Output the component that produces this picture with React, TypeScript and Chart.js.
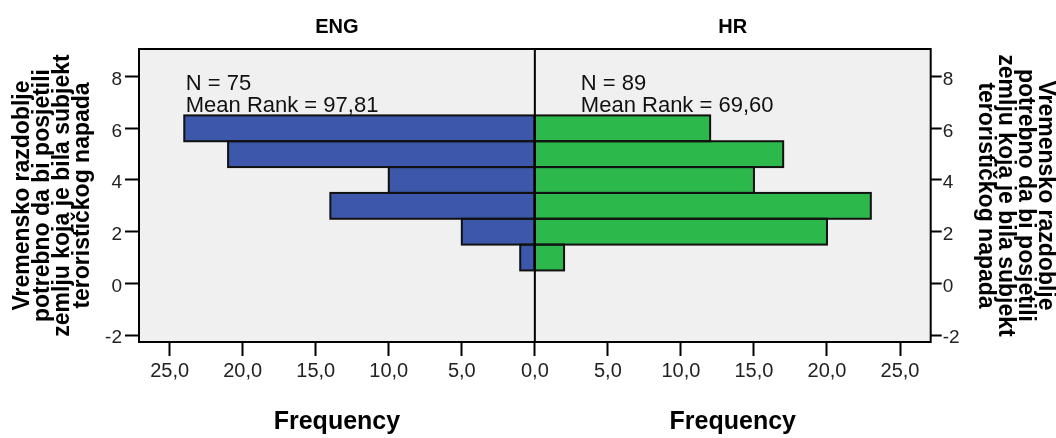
import React, { useEffect, useRef } from "react";
import { Chart, registerables } from "chart.js";

Chart.register(...registerables);

// ---- data ----
const GROUPS = ["ENG", "HR"];
const Y_POSITIONS = [1, 2, 3, 4, 5, 6];
const ENG_FREQ = [1, 5, 14, 10, 21, 24];
const HR_FREQ = [2, 20, 23, 15, 17, 12];
const ENG_STATS = ["N = 75", "Mean Rank = 97,81"];
const HR_STATS = ["N = 89", "Mean Rank = 69,60"];
const Y_TICKS = [-2, 0, 2, 4, 6, 8];
const X_TICKS_LEFT = [0, 5, 10, 15, 20, 25];
const X_TICKS_RIGHT = [5, 10, 15, 20, 25];
const Y_TITLE = [
  "Vremensko razdoblje",
  "potrebno da bi posjetili",
  "zemlju koja je bila subjekt",
  "terorističkog napada",
];
const X_TITLE = "Frequency";

// ---- scale ranges ----
const Y_MIN = -2.27;
const Y_MAX = 9.07;
const X_MAX = 27.1;

const FONT = '"Liberation Sans", Arial, sans-serif';
const ENG_COLOR = "#3d58ab";
const HR_COLOR = "#2db84b";
const PLOT_BG = "#f0f0f0";

const fmtX = (v: number) => v.toFixed(1).replace(".", ",");

const pyramidPlugin = {
  id: "pyramid",
  beforeDraw(chart: any) {
    const { ctx, chartArea: a, width, height } = chart;
    ctx.save();
    ctx.fillStyle = "#ffffff";
    ctx.fillRect(0, 0, width, height);
    ctx.fillStyle = PLOT_BG;
    ctx.fillRect(a.left, a.top, a.right - a.left, a.bottom - a.top);
    ctx.restore();
  },
  afterDatasetsDraw(chart: any) {
    const { ctx, chartArea: a, scales } = chart;
    ctx.save();
    // bar outlines (centered strokes)
    ctx.strokeStyle = "#111";
    ctx.lineWidth = 2;
    chart.data.datasets.forEach((_: any, i: number) => {
      const meta = chart.getDatasetMeta(i);
      meta.data.forEach((bar: any) => {
        const p = bar.getProps(["x", "y", "base", "height"], true);
        const x0 = Math.min(p.x, p.base);
        const x1 = Math.max(p.x, p.base);
        ctx.strokeRect(x0, p.y - p.height / 2, x1 - x0, p.height);
      });
    });
    // frame
    ctx.strokeStyle = "#000";
    ctx.lineWidth = 2;
    ctx.strokeRect(a.left, a.top, a.right - a.left, a.bottom - a.top);
    // centre line
    const cx = scales.xL.getPixelForValue(0);
    ctx.beginPath();
    ctx.moveTo(cx, a.top);
    ctx.lineTo(cx, a.bottom);
    ctx.stroke();

    // group titles
    ctx.fillStyle = "#000";
    ctx.font = `bold 20px ${FONT}`;
    ctx.textAlign = "center";
    ctx.textBaseline = "alphabetic";
    [scales.xL, scales.xR].forEach((s: any, i: number) => {
      ctx.fillText(GROUPS[i], (s.left + s.right) / 2, 33);
    });

    // stats text
    ctx.font = `22px ${FONT}`;
    ctx.textAlign = "left";
    ctx.fillStyle = "#111";
    const y = scales.y;
    const lines = [7.5, 6.63];
    ENG_STATS.forEach((t, i) => {
      ctx.fillText(t, scales.xL.getPixelForValue(23.9), y.getPixelForValue(lines[i]));
    });
    HR_STATS.forEach((t, i) => {
      ctx.fillText(t, scales.xR.getPixelForValue(3.15), y.getPixelForValue(lines[i]));
    });
    ctx.restore();
  },
};

export default function App() {
  const ref = useRef<HTMLCanvasElement | null>(null);

  useEffect(() => {
    if (!ref.current) return;
    const tickFontX = { family: FONT, size: 20 };
    const tickFontY = { family: FONT, size: 19 };
    const titleFontY = { family: FONT, size: 23, weight: "bold" as const, lineHeight: "20px" };
    const titleFontX = { family: FONT, size: 25, weight: "bold" as const, lineHeight: 1.2 };
    const gridCommon = {
      drawOnChartArea: false,
      drawTicks: true,
      offset: false,
      color: "#000",
      tickColor: "#000",
      tickWidth: 2,
    };

    const chart = new Chart(ref.current, {
      type: "bar",
      data: {
        datasets: [
          {
            label: GROUPS[0],
            data: Y_POSITIONS.map((p, i) => ({ x: ENG_FREQ[i], y: p })),
            backgroundColor: ENG_COLOR,
            borderWidth: 0,
            xAxisID: "xL",
            yAxisID: "y",
            barPercentage: 1,
            categoryPercentage: 1,
            grouped: false,
          },
          {
            label: GROUPS[1],
            data: Y_POSITIONS.map((p, i) => ({ x: HR_FREQ[i], y: p })),
            backgroundColor: HR_COLOR,
            borderWidth: 0,
            xAxisID: "xR",
            yAxisID: "y",
            barPercentage: 1,
            categoryPercentage: 1,
            grouped: false,
          },
        ],
      },
      options: {
        indexAxis: "y",
        animation: false,
        responsive: false,
        devicePixelRatio: 1,
        layout: { padding: { top: 49, left: 0, right: 0, bottom: 0 } },
        plugins: { legend: { display: false }, tooltip: { enabled: false } },
        scales: {
          y: {
            type: "linear",
            position: "left",
            offset: false,
            min: Y_MIN,
            max: Y_MAX,
            afterBuildTicks: (s: any) => {
              s.ticks = Y_TICKS.map((v) => ({ value: v }));
            },
            afterFit: (s: any) => {
              s.width = 139;
            },
            ticks: {
              font: tickFontY,
              color: "#222",
              padding: 3,
              labelOffset: 3,
              autoSkip: false,
              callback: (v: any) => String(v),
            },
            grid: { ...gridCommon, tickLength: 14 },
            border: { display: false },
            title: {
              display: true,
              text: Y_TITLE,
              font: titleFontY,
              color: "#000",
              padding: { top: 13, bottom: 0 },
            },
          },
          y2: {
            type: "linear",
            position: "right",
            offset: false,
            min: Y_MIN,
            max: Y_MAX,
            afterBuildTicks: (s: any) => {
              s.ticks = Y_TICKS.map((v) => ({ value: v }));
            },
            afterFit: (s: any) => {
              s.width = 125.3;
            },
            ticks: {
              font: tickFontY,
              color: "#222",
              padding: 1,
              labelOffset: 3,
              autoSkip: false,
              callback: (v: any) => String(v),
            },
            grid: { ...gridCommon, tickLength: 11 },
            border: { display: false },
            title: {
              display: true,
              text: Y_TITLE,
              font: titleFontY,
              color: "#000",
              padding: { top: 0.6, bottom: 0 },
            },
          },
          xL: {
            type: "linear",
            position: "bottom",
            stack: "freq",
            reverse: true,
            offset: false,
            min: 0,
            max: X_MAX,
            afterBuildTicks: (s: any) => {
              s.ticks = X_TICKS_LEFT.map((v) => ({ value: v }));
            },
            afterFit: (s: any) => {
              s.height = 96;
            },
            ticks: {
              font: tickFontX,
              color: "#222",
              padding: 3,
              autoSkip: false,
              maxRotation: 0,
              callback: (v: any) => fmtX(Number(v)),
            },
            grid: { ...gridCommon, tickLength: 14 },
            border: { display: false },
            title: {
              display: true,
              text: X_TITLE,
              font: titleFontX,
              color: "#000",
              padding: { top: 0, bottom: 1 },
            },
          },
          xR: {
            type: "linear",
            position: "bottom",
            stack: "freq",
            offset: false,
            min: 0,
            max: X_MAX,
            afterBuildTicks: (s: any) => {
              s.ticks = X_TICKS_RIGHT.map((v) => ({ value: v }));
            },
            afterFit: (s: any) => {
              s.height = 96;
            },
            ticks: {
              font: tickFontX,
              color: "#222",
              padding: 3,
              autoSkip: false,
              maxRotation: 0,
              callback: (v: any) => fmtX(Number(v)),
            },
            grid: { ...gridCommon, tickLength: 14 },
            border: { display: false },
            title: {
              display: true,
              text: X_TITLE,
              font: titleFontX,
              color: "#000",
              padding: { top: 0, bottom: 1 },
            },
          },
        },
      } as any,
      plugins: [pyramidPlugin],
    });
    return () => chart.destroy();
  }, []);

  return (
    <div style={{ position: "absolute", left: 0, top: 0, width: 1056, height: 438, background: "#fff" }}>
      <canvas ref={ref} width={1056} height={438} style={{ width: 1056, height: 438, display: "block" }} />
    </div>
  );
}
